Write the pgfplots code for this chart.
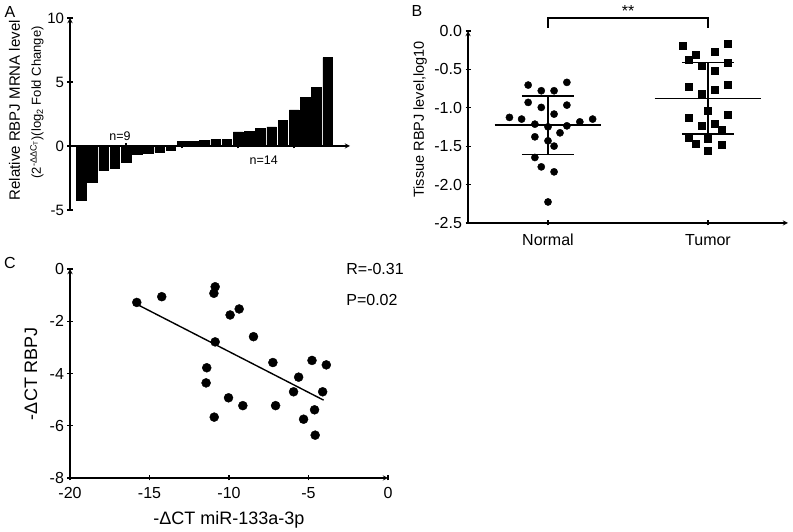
\documentclass[border=0pt]{standalone}
\usepackage{fontspec}
\setmainfont{Liberation Sans}
\usepackage{pgfplots}
\pgfplotsset{compat=1.18}

\pgfplotsset{
  panel/.style={
    scale only axis,
    tick align=outside,
    axis line style={line width=1.3pt,-},
    major tick style={line width=1.3pt,black},
    major tick length=5pt,
    minor tick num=0,
    /pgf/number format/assume math mode=true,
    clip=false,
  },
}

\begin{document}
\begin{tikzpicture}
\path[use as bounding box] (0pt,0pt) rectangle (793pt,532pt);

% panel letters
\node[font=\fontsize{16}{18}\selectfont] at (10pt,520pt) {A};
\node[font=\fontsize{16}{18}\selectfont] at (417pt,521pt) {B};
\node[font=\fontsize{16}{18}\selectfont] at (10pt,269pt) {C};

% A: waterfall of fold changes
\begin{axis}[panel,
  at={(70pt,322pt)}, anchor=south west,
  width=280pt, height=192pt,
  axis x line=middle, axis y line=left,
  xmin=0, xmax=25, ymin=-5, ymax=10,
  xtick={5,10,15,20}, xticklabels={},
  ytick={-5,0,5,10},
  tick label style={font=\fontsize{15}{17}\selectfont},
]
\addplot[ybar, bar width=9.5pt, fill=black, draw=black] coordinates {
  (1,-4.24) (2,-2.85) (3,-1.93) (4,-1.70) (5,-1.28) (6,-0.63) (7,-0.57)
  (8,-0.50) (9,-0.31) (10,0.34) (11,0.34) (12,0.45) (13,0.50) (14,0.52)
  (15,1.10) (16,1.15) (17,1.38) (18,1.49) (19,1.98) (20,2.82) (21,3.79)
  (22,4.57) (23,6.90)
};
\node[font=\fontsize{12.5}{14}\selectfont] at (axis cs:4.46,0.78) {n=9};
\node[font=\fontsize{12.5}{14}\selectfont] at (axis cs:17.3,-1.1) {n=14};
% two-line y label
\node[rotate=90, font=\fontsize{15}{18}\selectfont]
  at (axis description cs:-0.198,0.52) {Relative RBPJ MRNA level};
\node[rotate=90, font=\fontsize{13}{16}\selectfont]
  at (axis description cs:-0.118,0.56) {(2\textsuperscript{-ΔΔC\textsubscript{T}})(log\textsubscript{2} Fold Change)};
\end{axis}

% B: tissue levels, normal vs tumor
\begin{axis}[panel,
  at={(468pt,309pt)}, anchor=south west,
  width=320pt, height=192pt,
  axis x line=bottom, axis y line=left,
  xmin=0.5, xmax=2.5, ymin=-2.5, ymax=0,
  xtick={1,2}, xticklabels={Normal,Tumor},
  ytick={-2.5,-2,-1.5,-1,-0.5,0},
  yticklabel style={/pgf/number format/.cd, fixed, fixed zerofill, precision=1},
  xticklabel style={yshift=-5pt},
  tick label style={font=\fontsize{16}{18}\selectfont},
  ylabel={Tissue RBPJ level,log10},
  ylabel style={font=\fontsize{14.5}{17}\selectfont, at={(axis description cs:-0.15,0.54)}, anchor=center},
]
\addplot[only marks, mark=*, mark size=3.6pt, black] coordinates {
  (0.876,-0.704) (0.958,-0.778) (1.038,-0.778) (1.118,-0.669)
  (0.876,-0.930) (0.958,-0.995) (1.118,-0.965) (0.759,-1.125)
  (0.835,-1.147) (1.038,-1.082) (1.199,-1.183) (1.279,-1.147)
  (0.918,-1.213) (1.000,-1.248) (1.118,-1.235) (0.918,-1.378)
  (1.075,-1.326) (1.000,-1.430) (1.038,-1.499) (0.918,-1.647)
  (0.958,-1.769) (1.038,-1.834) (1.000,-2.226)
};
\addplot[only marks, mark=square*, mark size=3.5pt, black] coordinates {
  (1.840,-0.192) (2.124,-0.169) (1.924,-0.313) (1.878,-0.369)
  (2.042,-0.270) (2.124,-0.408) (1.962,-0.452) (2.042,-0.522)
  (1.878,-0.726) (2.042,-0.769) (2.124,-0.695) (1.962,-0.821)
  (2.000,-1.043) (1.878,-1.130) (2.124,-1.095) (1.962,-1.239)
  (2.042,-1.213) (2.084,-1.291) (1.878,-1.386) (2.000,-1.399)
  (1.920,-1.464) (2.084,-1.477) (2.000,-1.561)
};
% mean and SD, normal
\addplot[line width=1.6pt, black] coordinates {(0.666,-1.226) (1.334,-1.226)};
\addplot[line width=1.6pt, black] coordinates {(1,-0.843) (1,-1.608)};
\addplot[line width=1.6pt, black] coordinates {(0.836,-0.843) (1.164,-0.843)};
\addplot[line width=1.6pt, black] coordinates {(0.836,-1.608) (1.164,-1.608)};
% mean and SD, tumor
\addplot[line width=1.6pt, black] coordinates {(1.666,-0.878) (2.334,-0.878)};
\addplot[line width=1.6pt, black] coordinates {(2,-0.409) (2,-1.343)};
\addplot[line width=1.6pt, black] coordinates {(1.836,-0.409) (2.164,-0.409)};
\addplot[line width=1.6pt, black] coordinates {(1.836,-1.343) (2.164,-1.343)};
% significance bracket
\draw[line width=1.2pt] (axis cs:1,0.04) -- (axis cs:1,0.17) -- (axis cs:2,0.17) -- (axis cs:2,0.04);
\node[font=\fontsize{16}{18}\selectfont] at (axis cs:1.5,0.26) {**};
\end{axis}

% C: correlation
\begin{axis}[panel,
  at={(70pt,54pt)}, anchor=south west,
  width=318pt, height=209pt,
  axis x line=bottom, axis y line=left,
  xmin=-20, xmax=0, ymin=-8, ymax=0,
  xtick={-20,-15,-10,-5,0}, ytick={-8,-6,-4,-2,0},
  tick label style={font=\fontsize{16}{18}\selectfont},
  xticklabel style={yshift=-3pt},
  xlabel={-ΔCT miR-133a-3p},
  ylabel={-ΔCT RBPJ},
  xlabel style={font=\fontsize{18}{20}\selectfont, at={(axis description cs:0.5,-0.2)}, anchor=center},
  ylabel style={font=\fontsize{18}{20}\selectfont, at={(axis description cs:-0.123,0.5)}, anchor=center},
]
\addplot[only marks, mark=*, mark size=4.5pt, black] coordinates {
  (-15.80,-1.28) (-14.23,-1.06) (-10.87,-0.68) (-10.95,-0.93)
  (-9.93,-1.76) (-9.36,-1.53) (-10.87,-2.79) (-8.46,-2.59)
  (-11.40,-3.78) (-11.44,-4.36) (-10.93,-5.67) (-10.03,-4.93)
  (-9.13,-5.23) (-7.24,-3.58) (-7.07,-5.23) (-5.62,-4.14)
  (-5.94,-4.70) (-4.78,-3.50) (-3.88,-3.67) (-4.11,-4.70)
  (-4.62,-5.39) (-5.31,-5.75) (-4.58,-6.36)
};
\addplot[line width=1.4pt, black] coordinates {(-15.7,-1.38) (-4.05,-5.02)};
\node[font=\fontsize{16}{18}\selectfont, anchor=west] at (axis description cs:0.858,1.0) {R=-0.31};
\node[font=\fontsize{16}{18}\selectfont, anchor=west] at (axis description cs:0.858,0.852) {P=0.02};
\end{axis}
\end{tikzpicture}
\end{document}
